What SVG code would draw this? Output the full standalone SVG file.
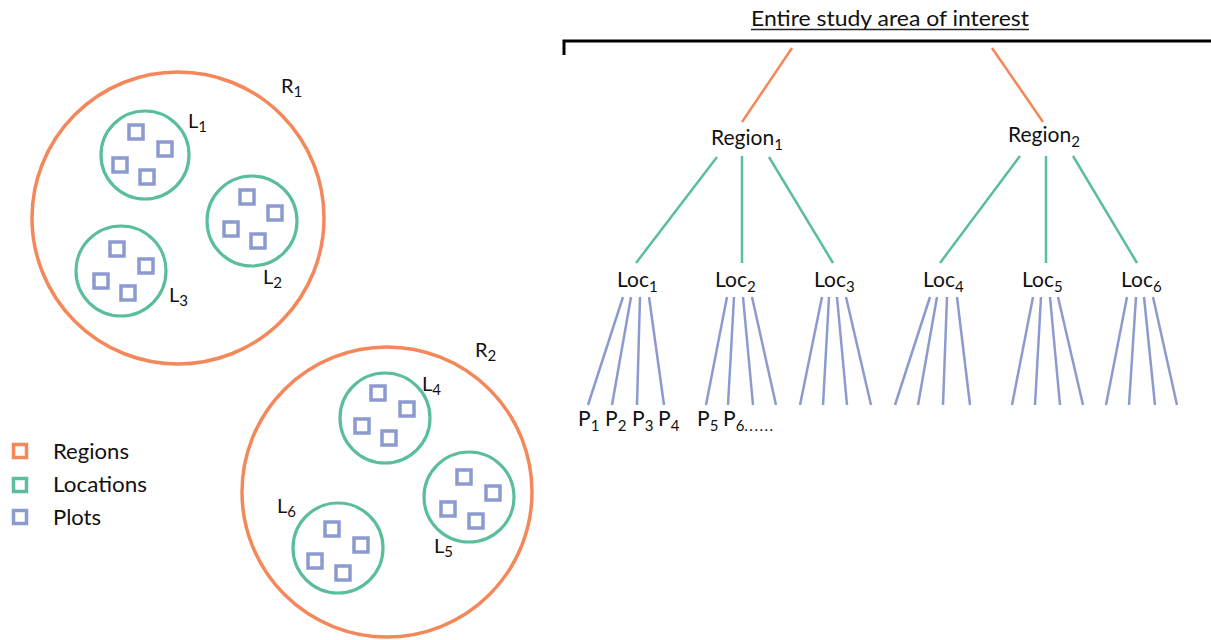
<svg xmlns="http://www.w3.org/2000/svg" width="1211" height="640" viewBox="0 0 1211 640">
<style>
text{font-family:Lato,"Liberation Sans",sans-serif;fill:#111;}
.lbl{font-size:20px;}
.big{font-size:21px;}
.leg{font-size:21px;}
.sub{font-size:15px;}
.reg{fill:none;stroke:#F4885B;stroke-width:3.5;}
.loc{fill:none;stroke:#5BBE9A;stroke-width:3.2;}
.plot{fill:none;stroke:#8C9BCF;stroke-width:3.5;}
.eo{stroke:#F4885B;stroke-width:2.5;}
.eg{stroke:#5BBE9A;stroke-width:2.5;}
.eb{stroke:#8C9BCF;stroke-width:2.5;}
</style>
<defs>
<rect id="p" x="-7" y="-7" width="14" height="14" class="plot"/>
</defs>
<rect width="1211" height="640" fill="#fff"/>

<!-- Left: nested circles -->
<g id="R1">
<circle cx="178" cy="218" r="146" class="reg"/>
<text x="281" y="93" class="lbl">R<tspan class="sub" dy="4">1</tspan></text>
</g>
<g id="L1">
<circle cx="145" cy="155" r="44" class="loc"/>
<use href="#p" x="136" y="132"/><use href="#p" x="165" y="149"/><use href="#p" x="120" y="165"/><use href="#p" x="147" y="177"/>
<text x="188" y="128" class="lbl">L<tspan class="sub" dy="4">1</tspan></text>
</g>
<g id="L2">
<circle cx="252" cy="221" r="45" class="loc"/>
<use href="#p" x="247" y="197"/><use href="#p" x="275" y="213"/><use href="#p" x="231" y="229"/><use href="#p" x="258" y="241"/>
<text x="263" y="284" class="lbl">L<tspan class="sub" dy="4">2</tspan></text>
</g>
<g id="L3">
<circle cx="121" cy="271" r="45" class="loc"/>
<use href="#p" x="117" y="249"/><use href="#p" x="146" y="266"/><use href="#p" x="101" y="281"/><use href="#p" x="128" y="293"/>
<text x="169" y="302" class="lbl">L<tspan class="sub" dy="4">3</tspan></text>
</g>
<g id="R2">
<circle cx="387" cy="492" r="145" class="reg"/>
<text x="475" y="357" class="lbl">R<tspan class="sub" dy="4">2</tspan></text>
</g>
<g id="L4">
<circle cx="385" cy="418" r="45" class="loc"/>
<use href="#p" x="378" y="393"/><use href="#p" x="407" y="409"/><use href="#p" x="362" y="426"/><use href="#p" x="389" y="438"/>
<text x="422" y="391" class="lbl">L<tspan class="sub" dy="4">4</tspan></text>
</g>
<g id="L5">
<circle cx="469" cy="497" r="45" class="loc"/>
<use href="#p" x="464" y="477"/><use href="#p" x="493" y="493"/><use href="#p" x="448" y="509"/><use href="#p" x="476" y="521"/>
<text x="434" y="553" class="lbl">L<tspan class="sub" dy="4">5</tspan></text>
</g>
<g id="L6">
<circle cx="338" cy="548" r="45" class="loc"/>
<use href="#p" x="332" y="529"/><use href="#p" x="361" y="545"/><use href="#p" x="315" y="561"/><use href="#p" x="343" y="573"/>
<text x="277" y="513" class="lbl">L<tspan class="sub" dy="4">6</tspan></text>
</g>

<!-- Legend -->
<g id="legend">
<rect x="13.5" y="444.5" width="13" height="13" class="reg"/>
<rect x="13.5" y="478.5" width="13" height="13" class="loc" style="stroke-width:3.5"/>
<rect x="13.5" y="510.5" width="13" height="13" class="plot"/>
<text x="53" y="459" class="leg" textLength="76" lengthAdjust="spacingAndGlyphs">Regions</text>
<text x="53" y="492" class="leg" textLength="94" lengthAdjust="spacingAndGlyphs">Locations</text>
<text x="53" y="525" class="leg" textLength="48" lengthAdjust="spacingAndGlyphs">Plots</text>
</g>

<!-- Tree -->
<g id="root">
<text x="751" y="26" class="big" textLength="278" lengthAdjust="spacingAndGlyphs">Entire study area of interest</text>
<line x1="751" y1="29.5" x2="1029" y2="29.5" stroke="#222" stroke-width="1.5"/>
<path d="M564 55 V41 H1211" fill="none" stroke="#000" stroke-width="3"/>
</g>
<g id="Region1"><text x="711" y="145" class="big">Region<tspan class="sub" dy="5">1</tspan></text></g>
<g id="Region2"><text x="1008" y="142" class="big">Region<tspan class="sub" dy="5">2</tspan></text></g>
<g id="Loc1"><text x="617" y="287" class="big">Loc<tspan class="sub" dy="5">1</tspan></text></g>
<g id="Loc2"><text x="715" y="287" class="big">Loc<tspan class="sub" dy="5">2</tspan></text></g>
<g id="Loc3"><text x="814" y="287" class="big">Loc<tspan class="sub" dy="5">3</tspan></text></g>
<g id="Loc4"><text x="923" y="287" class="big">Loc<tspan class="sub" dy="5">4</tspan></text></g>
<g id="Loc5"><text x="1022" y="287" class="big">Loc<tspan class="sub" dy="5">5</tspan></text></g>
<g id="Loc6"><text x="1121" y="287" class="big">Loc<tspan class="sub" dy="5">6</tspan></text></g>
<g id="plots">
<text x="578" y="426" class="big">P<tspan class="sub" dy="5">1</tspan></text>
<text x="605" y="426" class="big">P<tspan class="sub" dy="5">2</tspan></text>
<text x="632" y="426" class="big">P<tspan class="sub" dy="5">3</tspan></text>
<text x="658" y="426" class="big">P<tspan class="sub" dy="5">4</tspan></text>
<text x="697" y="426" class="big">P<tspan class="sub" dy="5">5</tspan></text>
<text x="723" y="426" class="big">P<tspan class="sub" dy="5">6<tspan letter-spacing="1.5">......</tspan></tspan></text>
</g>

<g id="connectors">
<line x1="792" y1="48" x2="742" y2="122" class="eo"/>
<line x1="992" y1="48" x2="1043" y2="122" class="eo"/>
<line x1="717" y1="157" x2="636" y2="263" class="eg"/>
<line x1="742" y1="156" x2="742" y2="263" class="eg"/>
<line x1="769" y1="157" x2="833" y2="263" class="eg"/>
<line x1="1020" y1="156" x2="940" y2="263" class="eg"/>
<line x1="1046" y1="156" x2="1046" y2="263" class="eg"/>
<line x1="1073" y1="156" x2="1137" y2="263" class="eg"/>
<g class="eb">
<line x1="623" y1="297" x2="588" y2="405"/><line x1="631" y1="297" x2="612" y2="405"/><line x1="640" y1="297" x2="637" y2="405"/><line x1="649" y1="297" x2="664" y2="405"/>
<line x1="727" y1="297" x2="706" y2="405"/><line x1="734" y1="297" x2="728" y2="405"/><line x1="743" y1="297" x2="753" y2="405"/><line x1="752" y1="297" x2="776" y2="405"/>
<line x1="822" y1="297" x2="800" y2="405"/><line x1="829" y1="297" x2="823" y2="405"/><line x1="837" y1="297" x2="847" y2="405"/><line x1="846" y1="297" x2="871" y2="405"/>
<line x1="930" y1="297" x2="895" y2="405"/><line x1="937" y1="297" x2="918" y2="405"/><line x1="947" y1="297" x2="943" y2="405"/><line x1="957" y1="297" x2="970" y2="405"/>
<line x1="1033" y1="297" x2="1012" y2="405"/><line x1="1041" y1="297" x2="1035" y2="405"/><line x1="1050" y1="297" x2="1060" y2="405"/><line x1="1058" y1="297" x2="1083" y2="405"/>
<line x1="1127" y1="297" x2="1106" y2="405"/><line x1="1136" y1="297" x2="1129" y2="405"/><line x1="1144" y1="297" x2="1155" y2="405"/><line x1="1153" y1="297" x2="1177" y2="405"/>
</g>
</g>
</svg>
